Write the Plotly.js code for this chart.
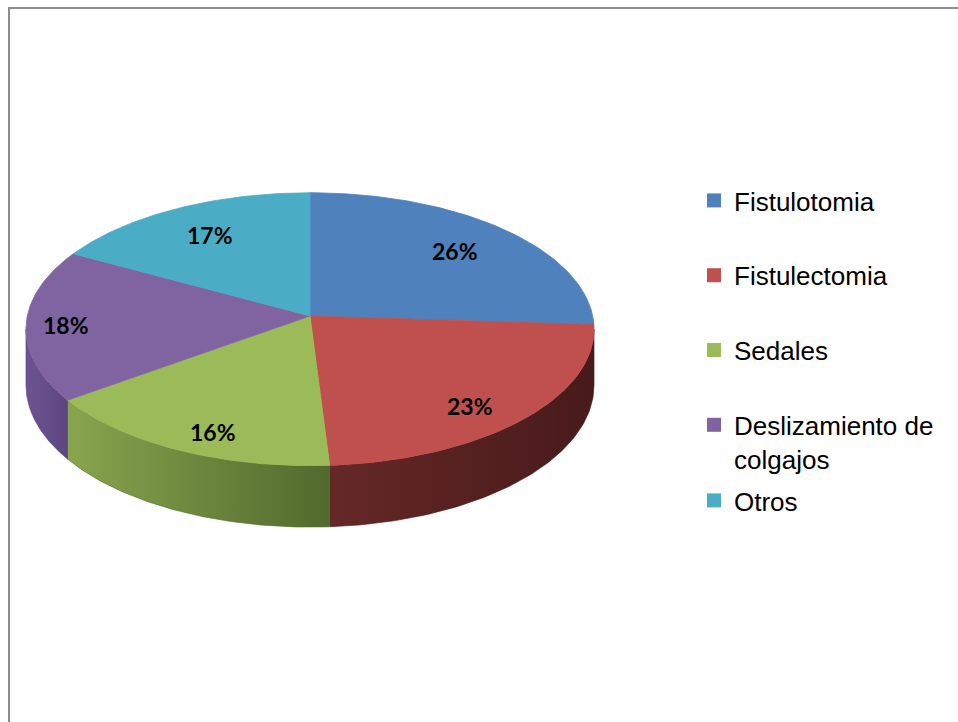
<!DOCTYPE html>
<html>
<head>
<meta charset="utf-8">
<script src="https://cdn.plot.ly/plotly-3.0.1.min.js"></script>
<style>html,body{margin:0;padding:0;background:#fff;}#chart{width:958px;height:722px;}</style>
</head>
<body>
<div id="chart"></div>
<script>
// ---- data ----
const categories = ['Fistulotomia', 'Fistulectomia', 'Sedales', 'Deslizamiento de colgajos', 'Otros'];
const legendLabels = ['Fistulotomia', 'Fistulectomia', 'Sedales', 'Deslizamiento de<br>colgajos', 'Otros'];
const percents = [26, 23, 16, 18, 17];

// ---- styles ----
const topColors = ['#4F81BD', '#C0504D', '#9BBB59', '#8064A2', '#4BACC6'];
const wallLight = ['#3d6597', '#652827', '#88a54e', '#6c5492', '#3b8aa0'];
const wallDark  = ['#2e4d74', '#481a1a', '#516a2d', '#5d4680', '#2e6e80'];
const labelRadius = [0.74, 0.76, 0.75, 0.86, 0.74];

// pie geometry (pixel space of the plot: 1 unit = 1 px)
const CX = 310, CY = 316, A = 282.7, B = 135.2, K = 0.0967, D = 55.5, N = 90;

function proj(theta, f) {
  const u = f * Math.sin(theta), v = -f * Math.cos(theta);
  const den = 1 - K * v;
  return {x: CX + A * u / den, y: CY + B * v / den, den: den};
}

const total = percents.reduce((s, v) => s + v, 0);
const traces = [];
const annotations = [];

// legend entries
categories.forEach((c, i) => {
  traces.push({
    type: 'scatter', x: [null], y: [null], mode: 'markers',
    marker: {symbol: 'square', size: 14, color: topColors[i]},
    name: legendLabels[i], legendgroup: 'g' + i, showlegend: true,
    legend: i === 4 ? 'legend2' : 'legend', hoverinfo: 'skip'
  });
});

const sil = Math.acos(-K);
let cum = 0;
const slices = percents.map(p => {
  const a0 = cum / total * 2 * Math.PI;
  cum += p;
  const a1 = cum / total * 2 * Math.PI;
  return [a0, a1];
});

// walls (front side)
slices.forEach(([a0, a1], i) => {
  const lo = Math.max(a0, sil), hi = Math.min(a1, 2 * Math.PI - sil);
  if (hi <= lo) return;
  const xs = [], ys = [];
  for (let j = 0; j <= N; j++) {
    const p = proj(lo + (hi - lo) * j / N, 1);
    xs.push(p.x); ys.push(p.y);
  }
  for (let j = N; j >= 0; j--) {
    const p = proj(lo + (hi - lo) * j / N, 1);
    xs.push(p.x); ys.push(p.y + D / p.den);
  }
  xs.push(xs[0]); ys.push(ys[0]);
  traces.push({
    type: 'scatter', x: xs, y: ys, mode: 'lines', fill: 'toself',
    fillgradient: {type: 'horizontal', colorscale: [[0, wallLight[i]], [1, wallDark[i]]]},
    line: {width: 0.6, color: wallDark[i]},
    legendgroup: 'g' + i, showlegend: false, hoverinfo: 'skip'
  });
});

// top faces
slices.forEach(([a0, a1], i) => {
  const xs = [CX], ys = [CY];
  for (let j = 0; j <= N; j++) {
    const p = proj(a0 + (a1 - a0) * j / N, 1);
    xs.push(p.x); ys.push(p.y);
  }
  xs.push(CX); ys.push(CY);
  traces.push({
    type: 'scatter', x: xs, y: ys, mode: 'lines', fill: 'toself',
    fillcolor: topColors[i], line: {width: 0.8, color: topColors[i]},
    legendgroup: 'g' + i, showlegend: false, hoveron: 'fills',
    name: categories[i], text: categories[i] + ': ' + percents[i] + '%', hoverinfo: 'text'
  });
  const mid = (a0 + a1) / 2;
  const lp = proj(mid, labelRadius[i]);
  const vUnit = -Math.cos(mid);
  annotations.push({
    x: lp.x, y: lp.y + 0.35 * D * Math.max(vUnit, 0), xref: 'x', yref: 'y',
    text: Math.round(percents[i] / total * 100) + '%', showarrow: false,
    font: {family: 'Lato, Carlito, "Open Sans", sans-serif', size: 23, color: '#000', weight: 'bold'}
  });
});

const legendFont = {family: '"Liberation Sans", Arial, sans-serif', size: 26, color: '#000'};

const layout = {
  width: 958, height: 722,
  margin: {l: 0, r: 0, t: 0, b: 0},
  paper_bgcolor: '#fff', plot_bgcolor: '#fff',
  xaxis: {range: [0, 958], visible: false, fixedrange: true},
  yaxis: {range: [722, 0], visible: false, fixedrange: true},
  showlegend: true,
  legend: {
    x: 694 / 958, xanchor: 'left', y: 1 - 177 / 722, yanchor: 'top',
    font: legendFont, traceorder: 'grouped', tracegroupgap: 38,
    valign: 'top', itemsizing: 'trace', bgcolor: 'rgba(0,0,0,0)'
  },
  legend2: {
    x: 694 / 958, xanchor: 'left', y: 1 - 477 / 722, yanchor: 'top',
    font: legendFont, valign: 'top', itemsizing: 'trace', bgcolor: 'rgba(0,0,0,0)'
  },
  shapes: [{
    type: 'rect', xref: 'x', yref: 'y', x0: 9, y0: 8, x1: 975, y1: 740,
    line: {color: '#8c8c8c', width: 2}, fillcolor: 'rgba(0,0,0,0)', layer: 'below'
  }],
  annotations: annotations
};

Plotly.newPlot('chart', traces, layout, {displayModeBar: false, staticPlot: false});
</script>
</body>
</html>
